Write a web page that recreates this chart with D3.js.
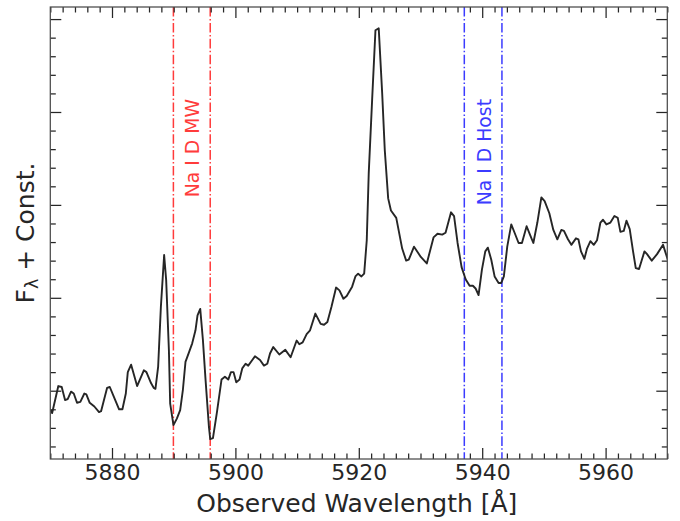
<!DOCTYPE html>
<html>
<head>
<meta charset="utf-8">
<script src="https://cdn.jsdelivr.net/npm/d3@7"></script>
<style>
  html, body { margin: 0; padding: 0; background: #fff; }
  svg { display: block; }
  text { font-family: "DejaVu Sans", sans-serif; }
</style>
</head>
<body>
<svg id="chart" width="680" height="521"></svg>
<script>
// ---- data ----
const wavelength = [
  5870.1, 5870.3, 5871.3, 5871.85, 5872.39, 5872.82, 5873.36, 5873.8, 5874.33, 5874.87,
  5875.52, 5875.84, 5876.39, 5877.14, 5877.9, 5878.23, 5879.2, 5879.64, 5880.39, 5881.15,
  5881.69, 5882.24, 5882.56, 5883.1, 5884.07, 5885.16, 5885.58, 5886.34, 5886.78, 5887.04,
  5887.48, 5887.92, 5888.45, 5888.78, 5889.22, 5889.43, 5889.96, 5890.51, 5891.05, 5891.49,
  5891.91, 5892.46, 5893.0, 5893.53, 5893.86, 5894.3, 5894.73, 5895.16, 5895.71, 5895.92,
  5896.36, 5897.01, 5897.75, 5898.3, 5898.84, 5899.28, 5899.7, 5900.14, 5900.67, 5901.11,
  5901.65, 5902.08, 5902.74, 5903.17, 5903.99, 5904.63, 5905.17, 5905.61, 5906.14, 5907.12,
  5908.09, 5908.95, 5909.93, 5910.36, 5910.9, 5911.55, 5912.1, 5912.96, 5913.82, 5914.37,
  5914.91, 5915.56, 5916.32, 5916.86, 5917.51, 5918.04, 5918.92, 5919.45, 5919.89, 5920.43,
  5920.87, 5921.29, 5921.61, 5922.16, 5922.7, 5923.23, 5923.79, 5924.21, 5924.76, 5925.21,
  5926.07, 5927.03, 5927.68, 5928.1, 5928.95, 5930.05, 5931.02, 5932.11, 5932.76, 5933.52,
  5934.06, 5934.95, 5935.44, 5936.01, 5936.66, 5937.31, 5937.96, 5938.49, 5938.93, 5939.41,
  5939.95, 5940.5, 5940.92, 5941.47, 5942.01, 5942.66, 5943.09, 5943.51, 5944.06, 5944.71,
  5945.25, 5945.9, 5946.44, 5947.2, 5947.74, 5948.29, 5948.94, 5949.59, 5950.12, 5950.88,
  5951.53, 5952.18, 5952.83, 5953.25, 5953.9, 5954.45, 5955.2, 5955.59, 5956.01, 5956.56,
  5956.99, 5957.54, 5958.08, 5958.61, 5959.16, 5959.58, 5960.13, 5960.78, 5961.43, 5961.97,
  5962.4, 5962.94, 5963.38, 5963.91, 5964.45, 5964.89, 5965.42, 5966.3, 5966.72, 5967.48,
  5968.34, 5969.31, 5970.08
];
const flux = [
  0.79, 0.76, 1.05, 1.04, 0.90, 0.91, 0.99, 0.97, 0.87, 0.88,
  0.97, 0.96, 0.87, 0.83, 0.77, 0.78, 1.03, 1.04, 0.92, 0.80,
  0.80, 0.97, 1.20, 1.28, 1.05, 1.22, 1.20, 1.08, 1.03, 1.02,
  1.26, 1.90, 2.46, 2.19, 1.44, 0.86, 0.63, 0.70, 0.79, 1.01,
  1.31, 1.41, 1.51, 1.65, 1.81, 1.88, 1.55, 1.12, 0.61, 0.48,
  0.49, 0.77, 1.12, 1.15, 1.12, 1.20, 1.20, 1.09, 1.12, 1.24,
  1.29, 1.27, 1.33, 1.37, 1.33, 1.27, 1.29, 1.40, 1.47, 1.39,
  1.44, 1.36, 1.54, 1.50, 1.52, 1.61, 1.65, 1.83, 1.72, 1.71,
  1.74, 1.90, 2.11, 2.08, 1.99, 2.02, 2.12, 2.23, 2.26, 2.23,
  2.26, 2.62, 3.34, 4.13, 4.88, 4.90, 4.20, 3.59, 3.07, 2.94,
  2.86, 2.53, 2.40, 2.41, 2.55, 2.44, 2.37, 2.65, 2.69, 2.68,
  2.70, 2.92, 2.88, 2.59, 2.33, 2.20, 2.13, 2.13, 2.10, 2.03,
  2.30, 2.50, 2.54, 2.41, 2.23, 2.16, 2.16, 2.23, 2.55, 2.79,
  2.70, 2.59, 2.59, 2.77, 2.68, 2.59, 2.81, 3.08, 3.04, 2.91,
  2.73, 2.63, 2.73, 2.72, 2.63, 2.57, 2.64, 2.63, 2.50, 2.42,
  2.53, 2.61, 2.57, 2.62, 2.81, 2.84, 2.79, 2.81, 2.88, 2.86,
  2.71, 2.72, 2.83, 2.74, 2.50, 2.32, 2.31, 2.50, 2.47, 2.40,
  2.47, 2.57, 2.41
];
const xMajorTicks = [5880, 5900, 5920, 5940, 5960];
const xMinorTicks = d3.range(5870, 5971, 2).filter(v => v % 20 !== 0);
const yMajorTicks = [1, 2, 3, 4, 5];
const yMinorTicks = [0.4, 0.6, 0.8, 1.2, 1.4, 1.6, 1.8, 2.2, 2.4, 2.6, 2.8, 3.2, 3.4, 3.6, 3.8, 4.2, 4.4, 4.6, 4.8];
const mwLines = [5889.95, 5895.92];
const hostLines = [5937.1, 5943.2];
const mwLabel = "Na I D MW";
const hostLabel = "Na I D Host";
const xLabel = "Observed Wavelength [Å]";

// ---- layout ----
const svg = d3.select("#chart");
const L = 50.3, R = 667.3, T = 7, B = 459;
const x = d3.scaleLinear().domain([5870, 5970]).range([L, R]);
const y = d3.scaleLinear().domain([0.265, 5.13]).range([B, T]);
const ink = "#262626";
const majorLen = 11, minorLen = 5.5;

// clip
svg.append("clipPath").attr("id", "clip")
  .append("rect").attr("x", L).attr("y", T).attr("width", R - L).attr("height", B - T);

// vertical marker lines
const dash = "9.6,2.4,1.5,2.4";
svg.append("g").selectAll("line").data(mwLines).join("line")
  .attr("x1", d => x(d)).attr("x2", d => x(d)).attr("y1", T).attr("y2", B)
  .attr("stroke", "#ff3b3b").attr("stroke-width", 1.5).attr("stroke-dasharray", dash);
svg.append("g").selectAll("line").data(hostLines).join("line")
  .attr("x1", d => x(d)).attr("x2", d => x(d)).attr("y1", T).attr("y2", B)
  .attr("stroke", "#3b3bff").attr("stroke-width", 1.5).attr("stroke-dasharray", dash);

// spectrum
const pts = wavelength.map((w, i) => [w, flux[i]]);
svg.append("path").datum(pts)
  .attr("clip-path", "url(#clip)")
  .attr("fill", "none").attr("stroke", ink).attr("stroke-width", 1.9)
  .attr("stroke-linejoin", "round")
  .attr("d", d3.line().x(d => x(d[0])).y(d => y(d[1])));

// annotations
svg.append("text")
  .attr("transform", `translate(${x(5892.9) + 7.5},99) rotate(-90)`)
  .attr("text-anchor", "end").attr("font-size", 18.8).attr("fill", "#ff3b3b")
  .text(mwLabel);
svg.append("text")
  .attr("transform", `translate(${x(5940.15) + 7.5},99) rotate(-90)`)
  .attr("text-anchor", "end").attr("font-size", 18.8).attr("fill", "#3b3bff")
  .text(hostLabel);

// axes
function styleAxis(g) {
  g.select(".domain").remove();
  g.selectAll(".tick line").attr("stroke", ink).attr("stroke-width", 1.25);
  g.selectAll(".tick text").attr("fill", ink).attr("font-family", "DejaVu Sans");
}
svg.append("g").attr("transform", `translate(0,${B})`)
  .call(d3.axisBottom(x).tickValues(xMajorTicks).tickFormat(d3.format("d"))
    .tickSizeInner(-majorLen).tickSizeOuter(0).tickPadding(5))
  .call(styleAxis)
  .call(g => g.selectAll(".tick text").attr("font-size", 22));
svg.append("g").attr("transform", `translate(0,${B})`)
  .call(d3.axisBottom(x).tickValues(xMinorTicks).tickFormat("")
    .tickSizeInner(-minorLen).tickSizeOuter(0))
  .call(styleAxis);
svg.append("g").attr("transform", `translate(0,${T})`)
  .call(d3.axisTop(x).tickValues(xMajorTicks).tickFormat("")
    .tickSizeInner(-majorLen).tickSizeOuter(0))
  .call(styleAxis);
svg.append("g").attr("transform", `translate(0,${T})`)
  .call(d3.axisTop(x).tickValues(xMinorTicks).tickFormat("")
    .tickSizeInner(-minorLen).tickSizeOuter(0))
  .call(styleAxis);
svg.append("g").attr("transform", `translate(${L},0)`)
  .call(d3.axisLeft(y).tickValues(yMajorTicks).tickFormat("")
    .tickSizeInner(-majorLen).tickSizeOuter(0))
  .call(styleAxis);
svg.append("g").attr("transform", `translate(${L},0)`)
  .call(d3.axisLeft(y).tickValues(yMinorTicks).tickFormat("")
    .tickSizeInner(-minorLen).tickSizeOuter(0))
  .call(styleAxis);
svg.append("g").attr("transform", `translate(${R},0)`)
  .call(d3.axisRight(y).tickValues(yMajorTicks).tickFormat("")
    .tickSizeInner(-majorLen).tickSizeOuter(0))
  .call(styleAxis);
svg.append("g").attr("transform", `translate(${R},0)`)
  .call(d3.axisRight(y).tickValues(yMinorTicks).tickFormat("")
    .tickSizeInner(-minorLen).tickSizeOuter(0))
  .call(styleAxis);

// frame
svg.append("rect").attr("x", L).attr("y", T).attr("width", R - L).attr("height", B - T)
  .attr("fill", "none").attr("stroke", "#4a4a4a").attr("stroke-width", 1.25);

// axis labels
svg.append("text").attr("x", (L + R) / 2 - 2).attr("y", 512)
  .attr("text-anchor", "middle").attr("font-size", 25).attr("fill", ink)
  .text(xLabel);
const yl = svg.append("text")
  .attr("transform", `translate(34,${(T + B) / 2}) rotate(-90)`)
  .attr("text-anchor", "middle").attr("font-size", 25).attr("fill", ink);
yl.append("tspan").text("F");
yl.append("tspan").attr("font-size", 17.5).attr("dy", 4).text("λ");
yl.append("tspan").attr("dy", -4).text(" + Const.");
</script>
</body>
</html>
